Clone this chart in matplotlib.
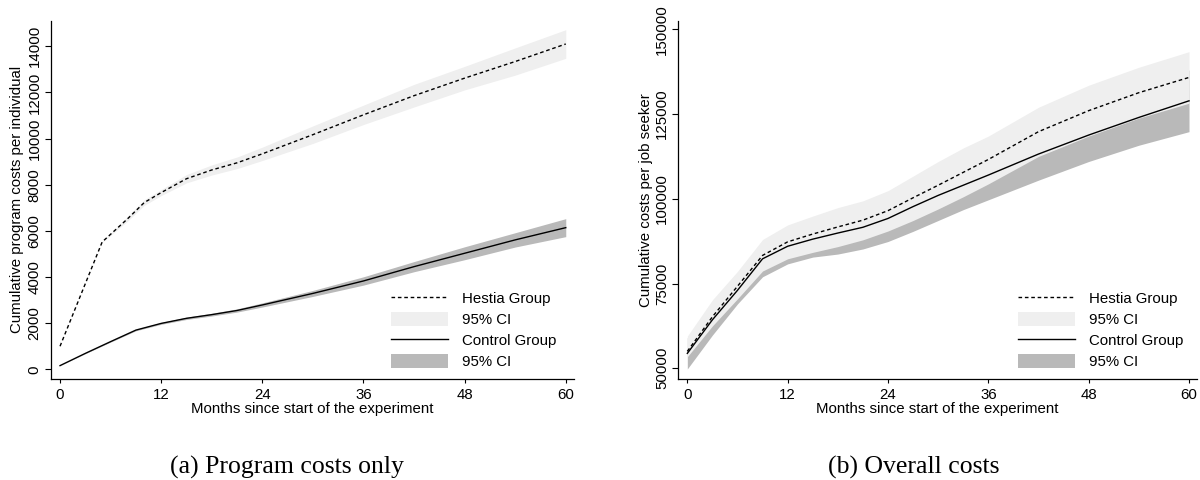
import numpy as np
import matplotlib
matplotlib.use("Agg")
import matplotlib.pyplot as plt
from matplotlib.lines import Line2D
from matplotlib.patches import Patch

plt.rcParams['font.family'] = ['Liberation Sans', 'DejaVu Sans']
FS = 10.8

# --- (a) program costs only ---
months_a_h = [0, 5, 8, 10, 12, 15, 18, 21, 24, 30, 36, 42, 48, 54, 60]
hestia_a = [1000, 5520, 6520, 7230, 7660, 8260, 8640, 8950, 9340, 10170, 11030, 11860, 12620, 13340, 14100]
hestia_a_hi = [1000, 5540, 6620, 7350, 7790, 8440, 8860, 9200, 9630, 10550, 11450, 12350, 13130, 13930, 14720]
hestia_a_lo = [1000, 5500, 6420, 7110, 7530, 8080, 8420, 8700, 9050, 9790, 10610, 11370, 12110, 12750, 13480]

months_a_c = [0, 3, 6, 9, 12, 15, 18, 21, 24, 30, 36, 42, 48, 54, 60]
control_a = [160, 690, 1200, 1700, 1990, 2210, 2370, 2550, 2790, 3290, 3830, 4450, 5030, 5610, 6140]
control_a_hi = [160, 700, 1220, 1730, 2030, 2260, 2430, 2620, 2880, 3420, 4010, 4670, 5310, 5920, 6530]
control_a_lo = [160, 680, 1180, 1670, 1950, 2160, 2310, 2480, 2700, 3160, 3650, 4230, 4750, 5300, 5750]

# --- (b) overall costs ---
months_b = [0, 3, 6, 9, 12, 15, 18, 21, 24, 27, 30, 33, 36, 42, 48, 54, 60]
hestia_b = [55000, 65200, 74200, 83300, 87300, 89600, 91700, 93700, 96500, 100300, 104000, 107800, 111600,
            119800, 126000, 131300, 135800]
hestia_b_hi = [59500, 70200, 78600, 88000, 92300, 94900, 97400, 99400, 102400, 106700, 111000, 115000, 118500,
               127000, 133500, 138800, 143400]
hestia_b_lo = [53400, 62500, 70500, 78700, 82300, 84200, 85900, 87900, 90500, 93600, 97000, 100600, 104400,
               112500, 118500, 123800, 128200]
control_b = [54400, 64300, 73000, 82300, 86000, 88100, 89900, 91600, 94200, 97700, 101000, 104000, 107000,
             113200, 118800, 124000, 128900]
control_b_lo = [49800, 59800, 69000, 77000, 80800, 82800, 83700, 85200, 87400, 90400, 93600, 96800, 99700,
                105500, 111000, 115800, 119800]
control_b_hi = [2 * m - lo for m, lo in zip(control_b, control_b_lo)]

LIGHT = '#efefef'
DARK = '#b9b9b9'

fig = plt.figure(figsize=(12, 4.8), dpi=100)
ax1 = fig.add_axes([0.0423, 0.2104, 0.4362, 0.7465])
ax2 = fig.add_axes([0.5651, 0.2104, 0.4327, 0.7465])


def draw(ax, mh, h, hhi, hlo, mc, c, chi, clo):
    # dark band first, the light one sits on top of it
    ax.fill_between(mc, clo, chi, color=DARK, lw=0, zorder=1)
    ax.fill_between(mh, hlo, hhi, color=LIGHT, lw=0, zorder=2)
    ax.plot(mc, c, color='black', lw=1.0, zorder=3)
    ax.plot(mh, h, color='black', lw=1.0, dashes=(2.6, 2.0), zorder=4)
    for s in ['top', 'right']:
        ax.spines[s].set_visible(False)
    for s in ['left', 'bottom']:
        ax.spines[s].set_linewidth(0.9)
    ax.set_xlim(-1.1, 61)
    ax.set_xticks([0, 12, 24, 36, 48, 60])
    ax.tick_params(axis='x', length=3.2, width=0.8, pad=3, labelsize=FS)
    ax.tick_params(axis='y', length=4, width=0.8, pad=2.5, labelsize=FS)
    ax.set_xlabel('Months since start of the experiment', fontsize=FS)
    ax.xaxis.set_label_coords(0.5, -0.063)


draw(ax1, months_a_h, hestia_a, hestia_a_hi, hestia_a_lo,
     months_a_c, control_a, control_a_hi, control_a_lo)
ax1.set_ylim(-420, 15110)
ax1.set_yticks(range(0, 14001, 2000))
for lab in ax1.get_yticklabels():
    lab.set_rotation(90)
    lab.set_va('center')
ax1.set_ylabel('Cumulative program costs per individual', fontsize=FS)
ax1.yaxis.set_label_coords(-0.052, 0.5)

draw(ax2, months_b, hestia_b, hestia_b_hi, hestia_b_lo,
     months_b, control_b, control_b_hi, control_b_lo)
ax2.set_ylim(46840, 152540)
ax2.set_yticks([50000, 75000, 100000, 125000, 150000])
for lab in ax2.get_yticklabels():
    lab.set_rotation(90)
    lab.set_va('center')
ax2.set_ylabel('Cumulative costs per job seeker', fontsize=FS)
ax2.yaxis.set_label_coords(-0.049, 0.5)

handles = [Line2D([], [], color='black', lw=1.0, dashes=(2.6, 2.0)),
           Patch(facecolor=LIGHT, edgecolor='none'),
           Line2D([], [], color='black', lw=1.0),
           Patch(facecolor=DARK, edgecolor='none')]
labels = ['Hestia Group', '95% CI', 'Control Group', '95% CI']
for ax, x0 in [(ax1, 391 / 1200), (ax2, 1018.3 / 1200)]:
    ax.legend(handles, labels, loc='upper left', bbox_to_anchor=(x0, 1 - 291 / 480),
              bbox_transform=fig.transFigure, frameon=False, fontsize=FS,
              borderpad=0, borderaxespad=0, handlelength=3.8, handleheight=1.05,
              handletextpad=0.93, labelspacing=0.4)

fig.text(286.5 / 1200, 1 - 474 / 480, '(a) Program costs only', ha='center', va='baseline',
         fontsize=18.5, family=['Liberation Serif', 'DejaVu Serif'])
fig.text(914 / 1200, 1 - 474 / 480, '(b) Overall costs', ha='center', va='baseline',
         fontsize=18.5, family=['Liberation Serif', 'DejaVu Serif'])

fig.savefig('out.png', dpi=100)
